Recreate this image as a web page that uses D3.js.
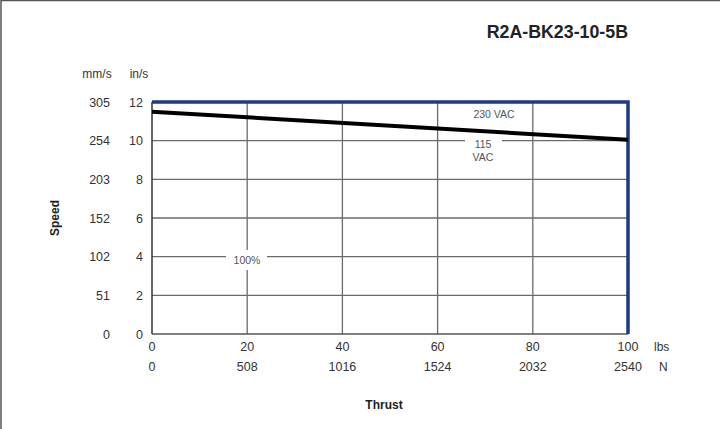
<!DOCTYPE html>
<html><head><meta charset="utf-8">
<script src="https://cdn.jsdelivr.net/npm/d3@7"></script>
<style>body{margin:0;background:#fff}svg{display:block}text{font-family:"Liberation Sans",Arial,sans-serif}</style>
</head><body><svg id="c" width="720" height="429"></svg>
<script>
const title = "R2A-BK23-10-5B";
const thrustLbs = [0, 20, 40, 60, 80, 100];
const thrustN = ["0", "508", "1016", "1524", "2032", "2540"];
const speedIn = [0, 2, 4, 6, 8, 10, 12];
const speedMm = ["0", "51", "102", "152", "203", "254", "305"];
const curveX = [0, 100];
const curveY = [11.5, 10.05];

const svg = d3.select("#c");
const x = d3.scaleLinear().domain([0, 100]).range([152, 628]);
const y = d3.scaleLinear().domain([0, 12]).range([334, 102]);
const grid = "#6b6b6b", txt = "#333";

// outer frame (top & left)
svg.append("line").attr("x1",1).attr("x2",720).attr("y1",0.5).attr("y2",0.5).attr("stroke","#555").attr("stroke-width",1.5);
svg.append("line").attr("x1",1).attr("x2",1).attr("y1",0).attr("y2",429).attr("stroke","#555").attr("stroke-width",1.5);

// horizontal gridlines with gaps
const gaps = {10: [[465, 502]], 4: [[226, 267]]};
speedIn.filter(v => v > 0 && v < 12).forEach(v => {
  let segs = [[x(0), x(100)]];
  (gaps[v] || []).forEach(g => {
    segs = segs.flatMap(s => (g[0] > s[0] && g[1] < s[1]) ? [[s[0], g[0]], [g[1], s[1]]] : [s]);
  });
  segs.forEach(s => svg.append("line").attr("x1", s[0]).attr("x2", s[1]).attr("y1", y(v)).attr("y2", y(v))
    .attr("stroke", grid).attr("stroke-width", 1.3));
});
// vertical gridlines
thrustLbs.filter(v => v > 0 && v < 100).forEach(v => {
  let segs = v === 20 ? [[y(12), 250], [270, y(0)]] : [[y(12), y(0)]];
  segs.forEach(s => svg.append("line").attr("x1", x(v)).attr("x2", x(v)).attr("y1", s[0]).attr("y2", s[1])
    .attr("stroke", grid).attr("stroke-width", 1.3));
});

// axes lines
svg.append("line").attr("x1", x(0)).attr("x2", x(0)).attr("y1", y(12)).attr("y2", y(0)).attr("stroke", "#333").attr("stroke-width", 1.5);
svg.append("line").attr("x1", x(0)).attr("x2", x(100)).attr("y1", y(0)).attr("y2", y(0)).attr("stroke", "#555").attr("stroke-width", 1.5);

// blue frame top/right
svg.append("path").attr("d", `M${x(0)},${y(12)}H${x(100)}V${y(0)}`).attr("fill","none")
  .attr("stroke", "#1d3a86").attr("stroke-width", 3.5);

// curve
const line = d3.line().x(d => x(d[0])).y(d => y(d[1]));
svg.append("path").datum(curveX.map((v, i) => [v, curveY[i]])).attr("d", line)
  .attr("fill", "none").attr("stroke", "#000").attr("stroke-width", 4);

// annotations
const ann = svg.append("g").attr("font-size", 10.5).attr("fill", "#555").attr("text-anchor", "middle");
ann.append("text").attr("x", 494).attr("y", 118).text("230  VAC");
ann.append("text").attr("x", 483).attr("y", 148).text("115");
ann.append("text").attr("x", 483).attr("y", 161).text("VAC");
ann.append("text").attr("x", 247).attr("y", 264).text("100%");

// y tick labels
const yl = svg.append("g").attr("font-size", 12.5).attr("fill", txt).attr("text-anchor", "end");
speedIn.forEach((v, i) => {
  yl.append("text").attr("x", 143).attr("y", y(v) + 4.5).text(v);
  yl.append("text").attr("x", 110).attr("y", y(v) + 4.5).text(speedMm[i]);
});
svg.append("text").attr("x", 97).attr("y", 78).attr("font-size", 12).attr("fill", txt).attr("text-anchor", "middle").text("mm/s");
svg.append("text").attr("x", 139).attr("y", 78).attr("font-size", 12).attr("fill", txt).attr("text-anchor", "middle").text("in/s");

// x tick labels
const xl = svg.append("g").attr("font-size", 12.5).attr("fill", txt).attr("text-anchor", "middle");
thrustLbs.forEach((v, i) => {
  xl.append("text").attr("x", x(v)).attr("y", 351).text(v);
  xl.append("text").attr("x", x(v)).attr("y", 371).text(thrustN[i]);
});
svg.append("text").attr("x", 654).attr("y", 351).attr("font-size", 12).attr("fill", txt).text("lbs");
svg.append("text").attr("x", 659).attr("y", 371).attr("font-size", 12).attr("fill", txt).text("N");

// axis titles
svg.append("text").attr("x", 384).attr("y", 409).attr("font-size", 12).attr("font-weight", "bold").attr("fill", "#222").attr("text-anchor", "middle").text("Thrust");
svg.append("text").attr("transform", "translate(59,218) rotate(-90)").attr("font-size", 12).attr("font-weight", "bold").attr("fill", "#222").attr("text-anchor", "middle").text("Speed");

// title
svg.append("text").attr("x", 628).attr("y", 38).attr("font-size", 17.8).attr("font-weight", "bold").attr("fill", "#222").attr("text-anchor", "end").text(title);
</script></body></html>
